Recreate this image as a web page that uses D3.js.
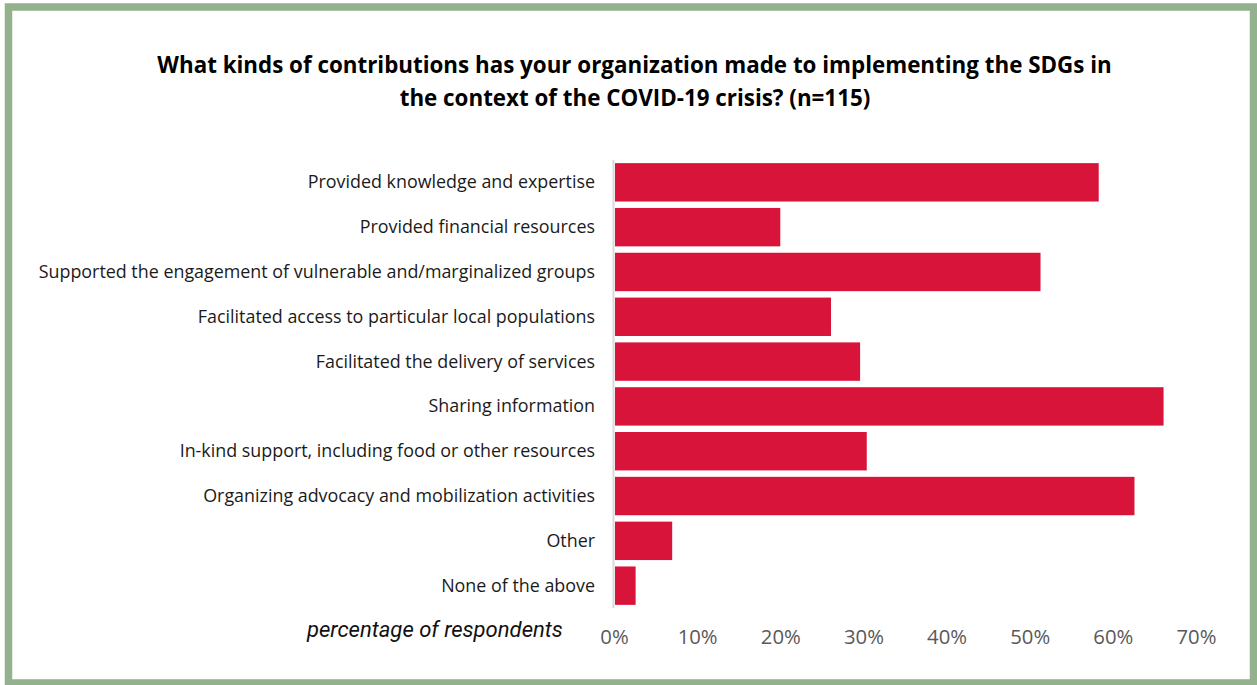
<!DOCTYPE html>
<html><head><meta charset="utf-8">
<script src="https://cdn.jsdelivr.net/npm/d3@7"></script>
<style>body{margin:0;background:#fff}svg{display:block}</style>
</head><body>
<svg id="c" width="1257" height="685"></svg>
<script>
const categories = [
  "Provided knowledge and expertise",
  "Provided financial resources",
  "Supported the engagement of vulnerable and/marginalized groups",
  "Facilitated access to particular local populations",
  "Facilitated the delivery of services",
  "Sharing information",
  "In-kind support, including food or other resources",
  "Organizing advocacy and mobilization activities",
  "Other",
  "None of the above"
];
const values = [58.3, 20.0, 51.3, 26.1, 29.6, 66.1, 30.4, 62.6, 7.0, 2.6];
const tickValues = [0, 10, 20, 30, 40, 50, 60, 70];
const titleLines = [
  "What kinds of contributions has your organization made to implementing the SDGs in",
  "the context of the COVID-19 crisis? (n=115)"
];
const axisTitle = "percentage of respondents";

const svg = d3.select("#c");
svg.append("rect").attr("x", 8.5).attr("y", 7).attr("width", 1245).attr("height", 676)
  .attr("fill", "#fff").attr("stroke", "#93B18D").attr("stroke-width", 7.5);

const x = d3.scaleLinear().domain([0, 70]).range([614, 1196]);
const y = d3.scaleBand().domain(categories).range([160, 608]).paddingInner(0.143).paddingOuter(0.07);

function fit(sel, target) {
  const w = sel.node().getComputedTextLength();
  const fs = parseFloat(sel.attr("font-size"));
  sel.attr("font-size", fs * target / w);
}

// title
const t1 = svg.append("text").attr("x", 634.5).attr("y", 73).attr("text-anchor", "middle")
  .attr("font-family", "Open Sans").attr("font-weight", "bold").attr("font-size", 22)
  .attr("fill", "#000").text(titleLines[0]);
fit(t1, 955);
const t2 = svg.append("text").attr("x", 635).attr("y", 106).attr("text-anchor", "middle")
  .attr("font-family", "Open Sans").attr("font-weight", "bold").attr("font-size", t1.attr("font-size"))
  .attr("fill", "#000").text(titleLines[1]);

// bars
svg.append("g").selectAll("rect").data(values).join("rect")
  .attr("x", x(0) + 1)
  .attr("y", (d, i) => y(categories[i]))
  .attr("width", d => x(d) - x(0) - 1)
  .attr("height", y.bandwidth())
  .attr("fill", "#D9143A");

// y axis line
svg.append("line").attr("x1", x(0) - 0.5).attr("x2", x(0) - 0.5).attr("y1", 160).attr("y2", 608)
  .attr("stroke", "#d9d9d9").attr("stroke-width", 2);

// category labels
const labels = svg.append("g").selectAll("text").data(categories).join("text")
  .attr("x", 595).attr("y", d => y(d) + y.bandwidth() / 2 + 6)
  .attr("text-anchor", "end").attr("font-family", "Open Sans").attr("font-size", 16)
  .attr("fill", "#1a1a1a").text(d => d);
const longest = labels.filter((d, i) => i === 2);
fit(longest, 557);
labels.attr("font-size", longest.attr("font-size"));

// x axis tick labels
const xa = svg.append("g").attr("transform", "translate(0,608)")
  .call(d3.axisBottom(x).tickValues(tickValues).tickFormat(d => d + "%").tickSize(0).tickPadding(0));
xa.select(".domain").remove();
xa.selectAll("text").attr("dy", 0).attr("y", 36).attr("font-family", "Open Sans").attr("font-size", 17)
  .attr("fill", "#595959");
const tl = xa.selectAll("text").filter((d, i) => i === 7);
fit(tl, 40);
xa.selectAll("text").attr("font-size", tl.attr("font-size"));

// axis title
const at = svg.append("text").attr("x", 307).attr("y", 637).attr("font-family", "Roboto")
  .attr("font-style", "italic").attr("font-size", 18).attr("fill", "#111").text(axisTitle);
fit(at, 256);
</script>
</body></html>
